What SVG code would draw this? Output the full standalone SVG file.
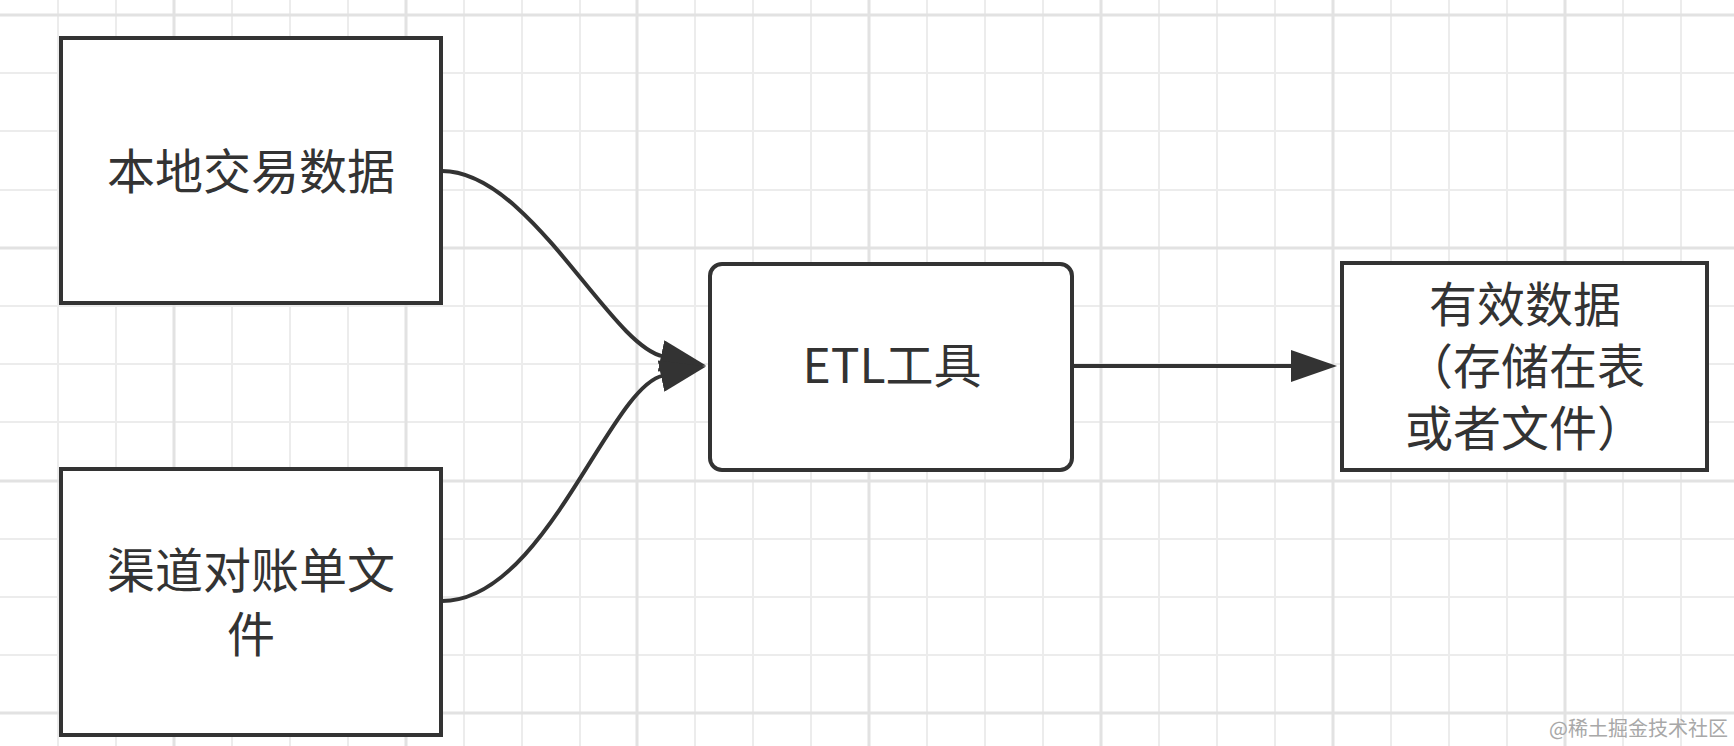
<svg xmlns="http://www.w3.org/2000/svg" width="1734" height="746" viewBox="0 0 1734 746">
  <style>
    .minor { stroke: #ececec; stroke-width: 2; fill: none; }
    .major { stroke: #e2e2e2; stroke-width: 3; fill: none; }
    .box { fill: #ffffff; stroke: #333333; stroke-width: 4; }
    .label { font-family: "Noto Sans CJK SC", "Noto Sans", sans-serif; font-size: 48px; fill: #333333; text-anchor: middle; }
    .edge { fill: none; stroke: #333333; stroke-width: 4; marker-end: url(#arrow); }
    .wm { font-family: "Noto Sans CJK SC", "Noto Sans", sans-serif; font-size: 20px; fill: #a8a8a8; text-anchor: end; }
  </style>
  <defs>
    <marker id="arrow" markerUnits="userSpaceOnUse" viewBox="0 0 46 32" markerWidth="46" markerHeight="32" refX="2" refY="16" orient="auto">
      <path d="M0,0 L46,16 L0,32 Z" fill="#333333"/>
    </marker>
  </defs>
  <rect x="0" y="0" width="1734" height="746" fill="#ffffff"/>
  <g id="grid">
    <path class="minor" d="M58,0V746M116,0V746M232,0V746M290,0V746M348,0V746M464,0V746M522,0V746M580,0V746M695,0V746M753,0V746M811,0V746M927,0V746M985,0V746M1043,0V746M1159,0V746M1217,0V746M1275,0V746M1391,0V746M1449,0V746M1507,0V746M1623,0V746M1681,0V746"/>
    <path class="minor" d="M0,73H1734M0,131H1734M0,190H1734M0,306H1734M0,364H1734M0,422H1734M0,539H1734M0,597H1734M0,655H1734"/>
    <path class="major" d="M174,0V746M406,0V746M637,0V746M869,0V746M1101,0V746M1333,0V746M1565,0V746M0,15H1734M0,248H1734M0,481H1734M0,713H1734"/>
  </g>
  <g id="connectors">
    <path class="edge" d="M442,171 C530,171 609.2,345 663,356.4"/>
    <path class="edge" d="M442,601 C545,601 609.2,387 663,375.6"/>
    <path class="edge" d="M1074,366 L1293,366"/>
  </g>
  <g id="node-local">
    <rect class="box" x="61" y="38" width="380" height="265"/>
    <text class="label" x="251" y="189">本地交易数据</text>
  </g>
  <g id="node-channel">
    <rect class="box" x="61" y="469" width="380" height="266"/>
    <text class="label" x="251" y="588">渠道对账单文</text>
    <text class="label" x="251" y="652">件</text>
  </g>
  <g id="node-etl">
    <rect class="box" x="710" y="264" width="362" height="206" rx="12" ry="12"/>
    <text class="label" x="892" y="383">ETL工具</text>
  </g>
  <g id="node-output">
    <rect class="box" x="1342" y="263" width="365" height="207"/>
    <text class="label" x="1525" y="322">有效数据</text>
    <text class="label" x="1525" y="384">（存储在表</text>
    <text class="label" x="1525" y="446">或者文件）</text>
  </g>
  <text class="wm" x="1728" y="736">@稀土掘金技术社区</text>
</svg>
